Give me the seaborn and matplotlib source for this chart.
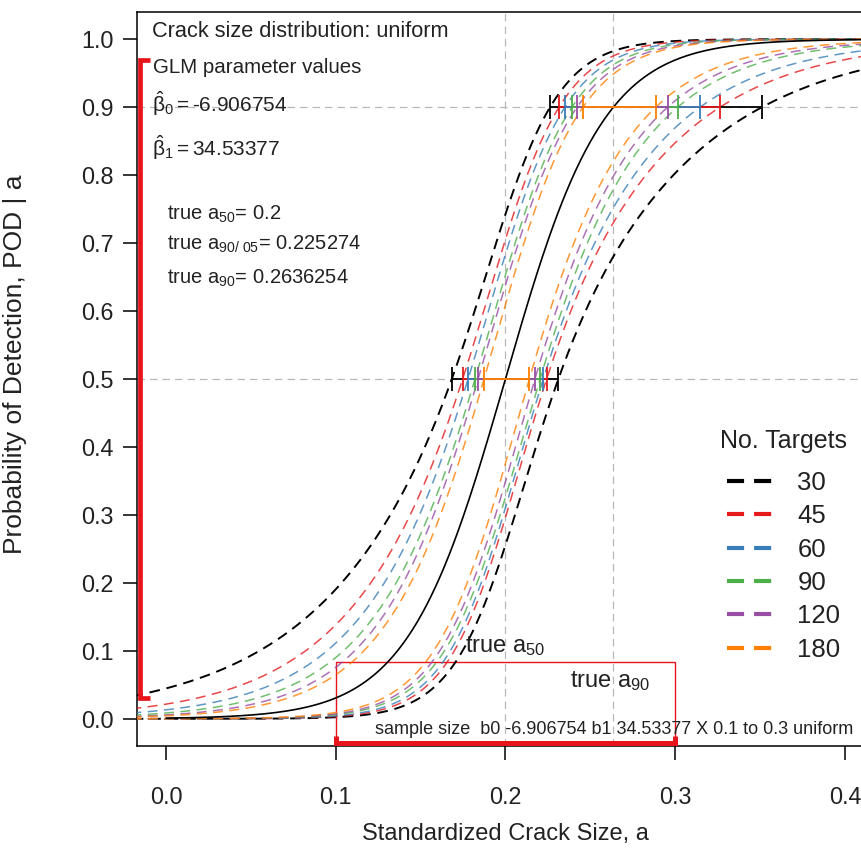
import numpy as np
import pandas as pd
import matplotlib
matplotlib.use("Agg")
import matplotlib.pyplot as plt
import matplotlib.transforms as mtransforms
from matplotlib.lines import Line2D
from matplotlib.patches import Rectangle
import seaborn as sns

# ---------------- data ----------------
b0 = -6.906754
b1 = 34.53377
a50_true = 0.2
a90_95_true = 0.225274
a90_true = 0.2636254
crack_range = [0.1, 0.3]

n_targets = [30, 45, 60, 90, 120, 180]
series_colors = ["#000000", "#E41A1C", "#377EB8", "#4DAF4A", "#984EA3", "#FF7F00"]

# interval end points marked on the chart (crossings of the bound curves)
a50_lower = [0.1684, 0.1748, 0.1780, 0.1821, 0.1839, 0.1874]
a50_upper = [0.2312, 0.2243, 0.2223, 0.2204, 0.2174, 0.2141]
a90_lower = [0.2263, 0.2316, 0.2351, 0.2392, 0.2422, 0.2457]
a90_upper = [0.3512, 0.3265, 0.3147, 0.3015, 0.2956, 0.2886]

x_ticks = [0.0, 0.1, 0.2, 0.3, 0.4]
x_tick_labels = ["0.0", "0.1", "0.2", "0.3", "0.4"]
y_ticks = [0.0, 0.1, 0.2, 0.3, 0.4, 0.5, 0.6, 0.7, 0.8, 0.9, 1.0]
y_tick_labels = ["0.0", "0.1", "0.2", "0.3", "0.4", "0.5", "0.6", "0.7", "0.8", "0.9", "1.0"]

# ---------------- model helpers ----------------
LN9 = np.log(9.0)
C_UP, C_LO = 0.187, 0.215


def lin(a):
    return b0 + b1 * np.asarray(a)


def expit(z):
    return 1.0 / (1.0 + np.exp(-z))


def fit_h(a1, h1, a2, h2, c):
    d1, d2 = (a1 - c) ** 2, (a2 - c) ** 2
    B = (h2 ** 2 - h1 ** 2) / (d2 - d1)
    A = h1 ** 2 - B * d1
    return A, B


a_grid = np.linspace(-0.03, 0.45, 600)
a_true_grid = np.linspace(0.0, 0.45, 500)

curves = []
for i, n in enumerate(n_targets):
    AU, BU = fit_h(a50_lower[i], -lin(a50_lower[i]), a90_lower[i], LN9 - lin(a90_lower[i]), C_UP)
    AL, BL = fit_h(a50_upper[i], lin(a50_upper[i]), a90_upper[i], lin(a90_upper[i]) - LN9, C_LO)
    up = expit(lin(a_grid) + np.sqrt(AU + BU * (a_grid - C_UP) ** 2))
    lo = expit(lin(a_grid) - np.sqrt(AL + BL * (a_grid - C_LO) ** 2))
    curves.append(pd.DataFrame({"a": a_grid, "pod": up, "n": n, "bound": "upper"}))
    curves.append(pd.DataFrame({"a": a_grid, "pod": lo, "n": n, "bound": "lower"}))
curve_df = pd.concat(curves, ignore_index=True)
true_df = pd.DataFrame({"a": a_true_grid, "pod": expit(lin(a_true_grid))})

# ---------------- styling ----------------
sns.set_theme(style="white")
plt.rcParams["font.family"] = ["Liberation Sans", "DejaVu Sans"]
plt.rcParams["mathtext.fontset"] = "custom"
plt.rcParams["mathtext.rm"] = "Liberation Sans"
plt.rcParams["mathtext.it"] = "Liberation Sans"
plt.rcParams["mathtext.bf"] = "Liberation Sans:bold"

RED = "#e8141c"
GRID = "#b8b8b8"
TXT = "#222222"

fig = plt.figure(figsize=(8.62, 8.49), dpi=100)
fig.patch.set_facecolor("white")
ax = fig.add_axes([137 / 862, 1 - 746 / 849, 736 / 862, 734 / 849])
ax.set_facecolor("white")
ax.set_xlim(-0.0171, 0.4166)
ax.set_ylim(-0.04, 1.04)

# reference lines
for yv in (0.5, 0.9):
    ax.axhline(yv, color=GRID, lw=0.9, linestyle=(0, (6, 4)), zorder=1)
for xv in (a50_true, a90_true):
    ax.axvline(xv, color=GRID, lw=0.9, linestyle=(0, (6, 4)), zorder=1)

# red annotation box
ax.add_patch(Rectangle((crack_range[0], -0.04), crack_range[1] - crack_range[0], 0.123,
                       fill=False, edgecolor=RED, lw=1.0, zorder=2))

# bound curves
for i, n in enumerate(n_targets):
    is_black = i == 0
    lw = 1.4 if is_black else 1.1
    dash = (0, (5.5, 3.5)) if is_black else (0, (6.5, 4.2))
    alpha = 1.0 if is_black else 0.8
    for bound in ("upper", "lower"):
        sub = curve_df[(curve_df["n"] == n) & (curve_df["bound"] == bound)]
        sns.lineplot(data=sub, x="a", y="pod", ax=ax, color=series_colors[i], lw=lw, alpha=alpha,
                     linestyle=dash, estimator=None, sort=False, legend=False, zorder=3)

# true POD curve
sns.lineplot(data=true_df, x="a", y="pod", ax=ax, color="black", lw=1.2,
             estimator=None, sort=False, legend=False, zorder=4)

# interval bars at POD 0.5 and 0.9
for i, n in enumerate(n_targets):
    for yv, lo, hi, ctr in ((0.5, a50_lower[i], a50_upper[i], a50_true),
                            (0.9, a90_lower[i], a90_upper[i], a90_true)):
        ax.errorbar([ctr], [yv], xerr=[[ctr - lo], [hi - ctr]], fmt="none",
                    ecolor=series_colors[i], elinewidth=1.3, capsize=8.5, capthick=1.3,
                    zorder=5 + i)

# red range brackets (POD range and crack-size range)
pod_lo, pod_hi = float(expit(lin(crack_range[0]))), float(expit(lin(crack_range[1])))
blend_y = mtransforms.blended_transform_factory(ax.transAxes, ax.transData)
ax.plot([0.018, 0.0045, 0.0045, 0.018], [pod_hi, pod_hi, pod_lo, pod_lo], transform=blend_y,
        color=RED, lw=3.4, solid_joinstyle="miter", solid_capstyle="butt", clip_on=False, zorder=12)
blend_x = mtransforms.blended_transform_factory(ax.transData, ax.transAxes)
ax.plot([crack_range[0], crack_range[0], crack_range[1], crack_range[1]], [0.014, 0.004, 0.004, 0.014],
        transform=blend_x, color=RED, lw=3.6, solid_joinstyle="miter", solid_capstyle="butt",
        clip_on=False, zorder=12)

# text annotations
ax.text(-0.0082, 1.003, "Crack size distribution: uniform", fontsize=15.7, va="baseline", color=TXT)
ax.text(-0.0076, 0.950, "GLM parameter values", fontsize=14.8, va="baseline", color=TXT)
ax.text(-0.0082, 0.893, r"$\hat{\beta}_0=$-6.906754", fontsize=15, va="baseline", color=TXT)
ax.text(-0.0082, 0.828, r"$\hat{\beta}_1=$34.53377", fontsize=15, va="baseline", color=TXT)
ax.text(0.0005, 0.734, r"true a$_{50}$= 0.2", fontsize=14.5, va="baseline", color=TXT)
ax.text(0.0005, 0.690, r"true a$_{90/\ 05}$= 0.225274", fontsize=14.5, va="baseline", color=TXT)
ax.text(0.0005, 0.640, r"true a$_{90}$= 0.2636254", fontsize=14.5, va="baseline", color=TXT)
ax.text(0.176, 0.098, r"true a$_{50}$", fontsize=17, va="baseline", color=TXT)
ax.text(0.238, 0.047, r"true a$_{90}$", fontsize=17, va="baseline", color=TXT)
ax.text(0.1232, -0.022, "sample size  b0 -6.906754 b1 34.53377 X 0.1 to 0.3 uniform",
        fontsize=13, va="baseline", color=TXT)

# legend
handles = [Line2D([], [], color=c, lw=3, linestyle=(0, (4.1, 2.4))) for c in series_colors]
leg = ax.legend(handles, [str(n) for n in n_targets], title="No. Targets",
                loc="upper left", bbox_to_anchor=(0.7927, 0.4312), frameon=False,
                fontsize=18.5, title_fontsize=18, handlelength=1.72, handletextpad=1.0,
                labelspacing=0.365, borderpad=0.0, borderaxespad=0.0)
for t in leg.get_texts():
    t.set_color(TXT)
leg.get_title().set_color(TXT)
try:
    leg._legend_box.sep = 12.5
except Exception:
    pass

# axes and ticks
ax.set_xticks(x_ticks)
ax.set_xticklabels(x_tick_labels)
ax.set_yticks(y_ticks)
ax.set_yticklabels(y_tick_labels)
ax.tick_params(axis="both", direction="out", length=10, width=1.1, color="black",
               labelsize=16.8, labelcolor=TXT, left=True, bottom=True)
ax.tick_params(axis="x", pad=19)
ax.tick_params(axis="y", pad=7)
for sp in ax.spines.values():
    sp.set_visible(True)
    sp.set_color("black")
    sp.set_linewidth(1.1)
ax.grid(False)
ax.set_xlabel("Standardized Crack Size, a", fontsize=17, labelpad=10, color=TXT)
ax.set_ylabel("Probability of Detection, POD | a", fontsize=19, color=TXT)
ax.yaxis.set_label_coords(-0.1495, 0.52)

fig.savefig("out.png", dpi=100)
